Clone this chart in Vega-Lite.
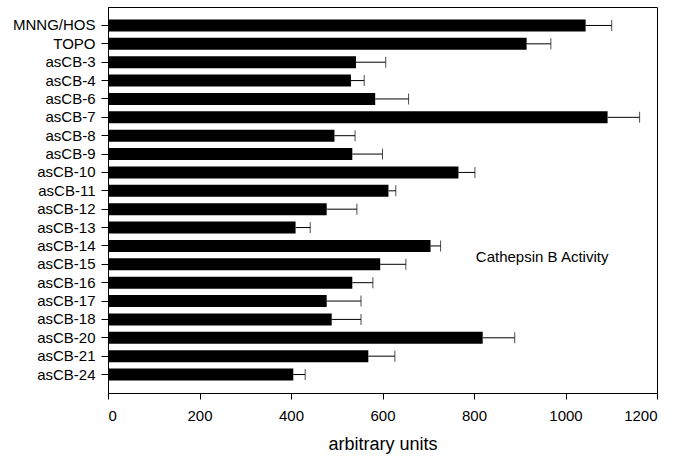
{
  "$schema": "https://vega.github.io/schema/vega-lite/v6.json",
  "autosize": "none",
  "width": 549,
  "height": 386,
  "padding": {"left": 108, "top": 7, "right": 18, "bottom": 63},
  "background": "white",
  "config": {
    "font": "Liberation Sans",
    "view": {"stroke": "black", "strokeWidth": 1},
    "axis": {"grid": false, "domainColor": "black", "tickColor": "black", "labelColor": "black", "titleColor": "black", "labelFont": "Liberation Sans", "titleFont": "Liberation Sans"}
  },
  "data": {
    "values": [
      {"name": "MNNG/HOS", "value": 1044, "err": 1101},
      {"name": "TOPO", "value": 915, "err": 968},
      {"name": "asCB-3", "value": 542, "err": 607},
      {"name": "asCB-4", "value": 531, "err": 560},
      {"name": "asCB-6", "value": 584, "err": 657},
      {"name": "asCB-7", "value": 1092, "err": 1162},
      {"name": "asCB-8", "value": 495, "err": 540},
      {"name": "asCB-9", "value": 534, "err": 600},
      {"name": "asCB-10", "value": 766, "err": 802},
      {"name": "asCB-11", "value": 613, "err": 629},
      {"name": "asCB-12", "value": 478, "err": 544},
      {"name": "asCB-13", "value": 410, "err": 442},
      {"name": "asCB-14", "value": 705, "err": 727},
      {"name": "asCB-15", "value": 595, "err": 651},
      {"name": "asCB-16", "value": 534, "err": 579},
      {"name": "asCB-17", "value": 478, "err": 553},
      {"name": "asCB-18", "value": 489, "err": 553},
      {"name": "asCB-20", "value": 819, "err": 889},
      {"name": "asCB-21", "value": 569, "err": 627},
      {"name": "asCB-24", "value": 405, "err": 431}
    ]
  },
  "encoding": {
    "y": {
      "field": "name",
      "type": "nominal",
      "sort": null,
      "scale": {"paddingInner": 0.35, "paddingOuter": 0.68},
      "axis": {"title": null, "labelFontSize": 15, "tickSize": 7, "labelPadding": 6, "domain": true}
    }
  },
  "layer": [
    {
      "mark": {"type": "bar", "color": "black"},
      "encoding": {
        "x": {
          "field": "value",
          "type": "quantitative",
          "scale": {"domain": [0, 1200], "nice": false},
          "axis": {"title": "arbitrary units", "titleFontSize": 18, "titleFontWeight": "normal", "titlePadding": 12, "labelFontSize": 15, "tickSize": 6, "labelPadding": 9, "format": "d", "values": [0, 200, 400, 600, 800, 1000, 1200]}
        }
      }
    },
    {
      "mark": {"type": "rule", "color": "black", "strokeWidth": 1},
      "encoding": {
        "x": {"field": "value", "type": "quantitative"},
        "x2": {"field": "err"}
      }
    },
    {
      "mark": {"type": "tick", "color": "black", "orient": "vertical", "size": 11, "thickness": 1},
      "encoding": {
        "x": {"field": "err", "type": "quantitative"}
      }
    },
    {
      "data": {"values": [{"label": "Cathepsin B Activity", "xpos": 804, "name": "asCB-15"}]},
      "mark": {"type": "text", "align": "left", "baseline": "middle", "fontSize": 15, "dy": -7, "color": "black"},
      "encoding": {
        "x": {"field": "xpos", "type": "quantitative"},
        "text": {"field": "label"}
      }
    }
  ]
}
